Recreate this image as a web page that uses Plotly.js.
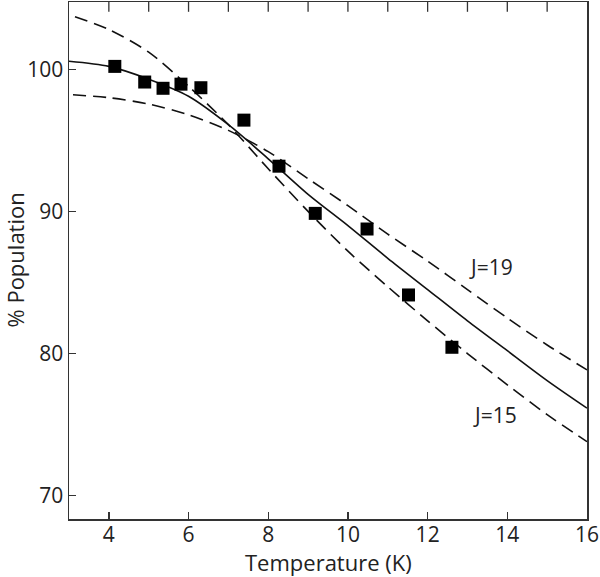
<!DOCTYPE html>
<html>
<head>
<meta charset="utf-8">
<script src="https://cdn.plot.ly/plotly-3.0.1.min.js"></script>
<style>html,body{margin:0;padding:0;background:#fff;}#chart{width:600px;height:577px;}</style>
</head>
<body>
<div id="chart"></div>
<script>
// Measured data points
var dataT = [4.15, 4.90, 5.36, 5.81, 6.31, 7.39, 8.27, 9.18, 10.48, 11.52, 12.61];
var dataPop = [100.2, 99.1, 98.66, 98.95, 98.7, 96.42, 93.18, 89.86, 88.76, 84.12, 80.44];

// Best-fit (solid) curve
var fitT = [3, 4, 5, 6, 7, 8, 9, 10, 11, 12, 13, 14, 15, 16];
var fitPop = [100.56, 100.2, 99.3, 98.1, 96.1, 93.7, 91.2, 89.0, 86.7, 84.5, 82.3, 80.2, 78.1, 76.16];

// J=15 dashed curve
var j15T = [3.15, 4, 5, 6, 7, 8, 9, 10, 11, 12, 13, 14, 15, 16];
var j15Pop = [103.7, 102.8, 101.2, 98.8, 96.1, 93.0, 90.0, 87.2, 84.7, 82.3, 80.0, 77.8, 75.7, 73.8];

// J=19 dashed curve
var j19T = [3.1, 4, 5, 6, 7, 8, 9, 10, 11, 12, 13, 14, 15, 16];
var j19Pop = [98.2, 98.0, 97.55, 96.8, 95.7, 94.2, 92.3, 90.4, 88.4, 86.5, 84.5, 82.5, 80.6, 78.85];

var labels = ["J=19", "J=15"];
var labelT = [13.59, 13.70];
var labelPop = [86.1, 75.7];

// axis ticks
var xTickVals = [4, 6, 8, 10, 12, 14, 16];
var topTickVals = [4, 5, 6, 7, 8, 9, 10, 11, 12, 13, 14, 15];
var yTickVals = [70, 80, 90, 100];
var xRange = [3, 16];
var yRange = [68.36, 104.73];

var xTitle = "Temperature (K)";
var yTitle = "% Population";

var font = "Open Sans, DejaVu Sans, sans-serif";
var lineCol = "#111";
var txtCol = "#222";

var traces = [
  {x: j15T, y: j15Pop, mode: "lines", line: {color: lineCol, width: 1.6, dash: "13px,7px", shape: "spline", smoothing: 0.8}},
  {x: j19T, y: j19Pop, mode: "lines", line: {color: lineCol, width: 1.6, dash: "13px,7px", shape: "spline", smoothing: 0.8}},
  {x: fitT, y: fitPop, mode: "lines", line: {color: lineCol, width: 1.6, shape: "spline", smoothing: 0.8}},
  {x: dataT, y: dataPop, mode: "markers", marker: {symbol: "square", size: 13, color: "#000"}},
  // top-edge tick marks (inside, every 1 K), clipped to the plot area
  {x: topTickVals, y: topTickVals.map(function () { return yRange[1]; }), mode: "markers",
   marker: {symbol: "line-ns", size: 14, color: "#333", line: {color: "#333", width: 1.3}}}
];

var annots = labels.map(function (t, i) {
  return {x: labelT[i], y: labelPop[i], xref: "x", yref: "y", text: t, showarrow: false,
          font: {size: 21, family: font, color: txtCol}, xanchor: "center", yanchor: "middle"};
});
annots.push({x: 0.5, y: 0, xref: "paper", yref: "paper", yshift: -43, text: xTitle, showarrow: false,
             font: {size: 22, family: font, color: txtCol}, xanchor: "center", yanchor: "middle"});
annots.push({x: 0, y: 0.5, xref: "paper", yref: "paper", xshift: -55, text: yTitle, textangle: -90, showarrow: false,
             font: {size: 22, family: font, color: txtCol}, xanchor: "center", yanchor: "middle"});

var layout = {
  width: 600, height: 577,
  margin: {l: 69, r: 13, t: 2, b: 58},
  paper_bgcolor: "#fff", plot_bgcolor: "#fff",
  showlegend: false,
  font: {family: font, color: txtCol, size: 21},
  xaxis: {
    range: xRange, tickvals: xTickVals,
    ticks: "inside", ticklen: 7, tickwidth: 1.3, tickcolor: "#333", ticklabelstandoff: -4,
    showline: true, linecolor: "#333", linewidth: 1.5, mirror: true,
    showgrid: false, zeroline: false, ticklabeloverflow: "allow",
    tickfont: {size: 21, family: font, color: txtCol}
  },
  yaxis: {
    range: yRange, tickvals: yTickVals,
    ticks: "inside", ticklen: 7, tickwidth: 1.3, tickcolor: "#333",
    showline: true, linecolor: "#333", linewidth: 1.5, mirror: true,
    showgrid: false, zeroline: false,
    tickfont: {size: 21, family: font, color: txtCol}
  },
  annotations: annots
};

Plotly.newPlot("chart", traces, layout, {displayModeBar: false, staticPlot: true});
</script>
</body>
</html>
